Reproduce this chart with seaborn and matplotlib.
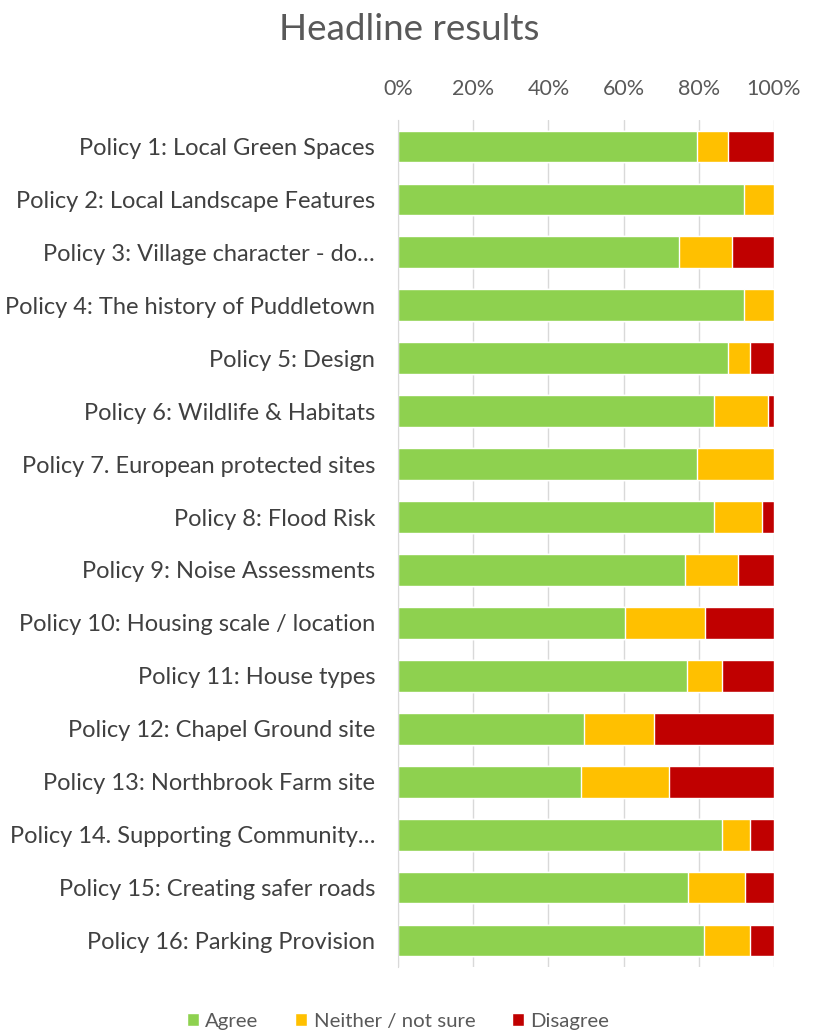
import numpy as np
import pandas as pd
import seaborn as sns
import matplotlib.pyplot as plt

policies = [
    "Policy 1: Local Green Spaces",
    "Policy 2: Local Landscape Features",
    "Policy 3: Village character - do\u2026",
    "Policy 4: The history of Puddletown",
    "Policy 5: Design",
    "Policy 6: Wildlife & Habitats",
    "Policy 7. European protected sites",
    "Policy 8: Flood Risk",
    "Policy 9: Noise Assessments",
    "Policy 10: Housing scale / location",
    "Policy 11: House types",
    "Policy 12: Chapel Ground site",
    "Policy 13: Northbrook Farm site",
    "Policy 14. Supporting Community\u2026",
    "Policy 15: Creating safer roads",
    "Policy 16: Parking Provision",
]
agree = [79.6, 92.1, 74.8, 92.1, 87.7, 84.1, 79.6, 84.1, 76.4, 60.3, 76.8, 49.6, 48.6, 86.2, 77.0, 81.4]
neither = [8.1, 7.9, 14.1, 7.9, 6.0, 14.4, 20.4, 12.8, 14.1, 21.3, 9.3, 18.4, 23.5, 7.5, 15.4, 12.3]
disagree = [12.3, 0.0, 11.1, 0.0, 6.3, 1.5, 0.0, 3.1, 9.5, 18.4, 13.9, 32.0, 27.9, 6.3, 7.6, 6.3]

df = pd.DataFrame({"Policy": policies, "Agree": agree, "Neither": neither, "Disagree": disagree})
df["c1"] = df["Agree"]
df["c2"] = df["Agree"] + df["Neither"]
df["c3"] = df["c2"] + df["Disagree"]

sns.set_style("white")
plt.rcParams["font.family"] = ["Lato", "DejaVu Sans"]

green = "#8ED14F"
yellow = "#FFC000"
red = "#C00000"

fig = plt.figure(figsize=(8.19, 10.33), dpi=100)
ax = fig.add_axes([398 / 819, 1 - 967 / 1033, 376 / 819, (967 - 120) / 1033])

# stacked bars: draw cumulative totals back to front
sns.barplot(data=df, y="Policy", x="c3", color=red, width=0.6, ax=ax, orient="h",
            label="Disagree", saturation=1)
sns.barplot(data=df, y="Policy", x="c2", color=yellow, width=0.6, ax=ax, orient="h",
            label="Neither / not sure", saturation=1)
sns.barplot(data=df, y="Policy", x="c1", color=green, width=0.6, ax=ax, orient="h",
            label="Agree", saturation=1)

ax.set_xlim(0, 100)
ax.set_xticks([0, 20, 40, 60, 80, 100])
ax.set_xticklabels(["0%", "20%", "40%", "60%", "80%", "100%"])
ax.xaxis.tick_top()
ax.tick_params(axis="x", length=0, pad=15, labelsize=15.5, labelcolor="#595959")
ax.tick_params(axis="y", length=0, pad=16.5, labelsize=17, labelcolor="#404040")
ax.set_xlabel("")
ax.set_ylabel("")
ax.xaxis.grid(True, color="#D9D9D9", linewidth=1)
ax.set_axisbelow(True)
for s in ["top", "right", "bottom"]:
    ax.spines[s].set_visible(False)
ax.spines["left"].set_color("#D9D9D9")

fig.text(0.5, 1 - 30 / 1033, "Headline results", ha="center", va="center",
         fontsize=26.5, color="#595959")

handles, labels = ax.get_legend_handles_labels()
order = [2, 1, 0]
ax.legend([handles[i] for i in order], [labels[i] for i in order],
          loc="center", bbox_to_anchor=(398 / 819, 1 - 1021 / 1033),
          bbox_transform=fig.transFigure, ncol=3, frameon=False,
          fontsize=14.7, handlelength=0.6, handleheight=0.6, handletextpad=0.3,
          columnspacing=1.8, labelcolor="#595959")

fig.savefig("out.png", dpi=100)
